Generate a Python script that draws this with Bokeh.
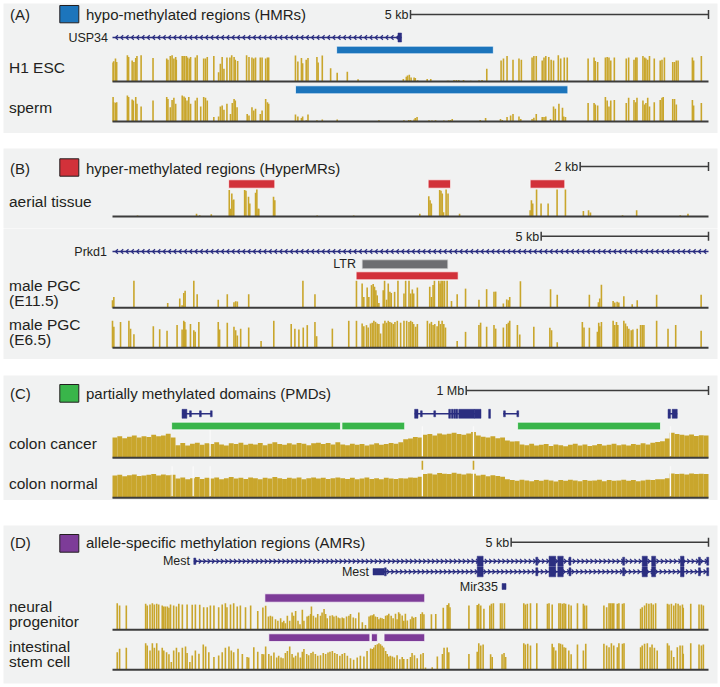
import numpy as np
from bokeh.plotting import figure
from bokeh.models import Range1d, Spacer
from bokeh.layouts import column
from bokeh.core.properties import value
from bokeh.embed import file_html
from bokeh.resources import INLINE

# ---------------------------------------------------------------- data
# Panel A  (positions in kb from window start, methylation level 0..1)
A_WINDOW_KB = 10.0
A_SCALE_KB = 5
A_USP34 = (0.0, 4.85)
A_USP34_EXONS = [(4.79, 4.85)]
A_HMR_H1 = [(3.76, 6.39)]
A_HMR_SPERM = [(3.07, 7.64)]
A_H1 = [(0.01,0.70),(0.02,0.75),(0.05,0.85),(0.07,0.72),(0.25,0.97),(0.27,0.91),(0.33,0.78),(0.36,0.72),
        (0.39,0.87),(0.41,0.94),(0.48,0.97),(0.68,0.87),(0.91,0.85),(0.93,0.81),(0.97,0.94),(1.00,0.97),
        (1.03,0.85),(1.06,0.91),(1.07,0.81),(1.17,0.94),(1.20,0.94),(1.21,0.94),(1.24,0.94),(1.26,0.89),
        (1.29,0.85),(1.31,0.91),(1.39,0.89),(1.42,0.97),(1.53,0.85),(1.56,0.85),(1.59,0.91),(1.70,0.94),
        (1.78,0.34),(1.81,0.66),(1.84,0.91),(1.87,0.47),(1.92,0.89),(1.97,0.89),(2.00,0.97),(2.04,0.91),
        (2.06,0.81),(2.10,0.76),(2.25,0.97),(2.29,0.91),(2.34,0.89),(2.37,0.85),(2.40,0.89),(2.48,0.89),
        (2.51,0.89),(2.57,0.85),(2.60,0.89),(2.62,0.89),(3.07,0.96),(3.11,0.74),(3.17,0.87),(3.19,0.68),
        (3.25,0.81),(3.28,0.87),(3.43,0.91),(3.45,0.70),(3.52,0.96),(3.66,0.49),(3.77,0.32),(3.94,0.36),
        (4.12,0.08),(4.88,0.09),(4.93,0.18),(4.95,0.22),(4.98,0.25),(5.01,0.15),(5.06,0.15),(5.08,0.13),
        (5.12,0.05),(5.28,0.09),(5.34,0.09),(5.62,0.03),(5.64,0.03),(5.73,0.06),(5.77,0.06),(5.81,0.06),
        (5.89,0.06),(6.01,0.03),(6.15,0.05),(6.20,0.06),(6.28,0.47),(6.52,0.78),(6.56,0.85),(6.62,0.94),
        (6.72,0.81),(6.82,0.85),(6.86,0.81),(7.04,0.89),(7.07,0.94),(7.11,0.94),(7.21,0.78),(7.24,0.89),
        (7.27,0.94),(7.32,0.91),(7.36,0.81),(7.40,0.78),(7.48,0.97),(7.52,0.85),(7.58,0.89),(7.63,0.89),
        (7.98,0.85),(8.08,0.89),(8.10,0.76),(8.14,0.72),(8.27,0.89),(8.30,0.91),(8.33,0.89),(8.36,0.78),
        (8.42,0.89),(8.62,0.85),(8.66,0.89),(8.75,0.81),(8.78,0.89),(8.80,0.89),(8.90,0.94),(8.93,0.89),
        (8.95,0.85),(8.98,0.81),(9.01,0.94),(9.09,0.85),(9.19,0.78),(9.22,0.81),(9.26,0.89),(9.40,0.72),
        (9.43,0.72),(9.46,0.78),(9.49,0.78),(9.73,0.89),(9.75,0.78),(9.88,0.94)]
A_SPERM = [(0.01,0.94),(0.02,0.74),(0.05,0.72),(0.07,0.74),(0.25,1.00),(0.27,0.94),(0.33,0.85),(0.35,0.81),
           (0.39,0.94),(0.41,0.68),(0.48,0.58),(0.68,0.81),(0.91,0.94),(0.93,0.87),(0.97,0.55),(1.00,0.83),
           (1.03,0.91),(1.06,0.68),(1.17,1.00),(1.20,0.96),(1.22,0.91),(1.25,0.81),(1.28,0.94),(1.31,0.68),
           (1.39,0.81),(1.42,0.91),(1.48,0.58),(1.53,0.94),(1.56,0.91),(1.59,0.81),(1.70,0.17),(1.78,0.19),
           (1.81,0.58),(1.84,0.62),(1.87,0.45),(1.92,0.68),(1.98,0.29),(2.01,0.71),(2.04,0.87),(2.06,0.81),
           (2.09,0.55),(2.26,0.29),(2.29,0.23),(2.34,0.55),(2.37,0.42),(2.40,0.49),(2.48,0.29),(2.51,0.42),
           (2.57,0.87),(2.60,0.74),(2.62,0.68),(3.07,0.27),(3.11,0.19),(3.17,0.13),(3.19,0.19),(3.25,0.05),
           (3.28,0.27),(3.43,0.05),(3.52,0.08),(3.77,0.08),(4.47,0.05),(4.89,0.05),(4.97,0.06),(5.00,0.06),
           (5.06,0.08),(5.08,0.13),(5.11,0.17),(5.31,0.05),(5.36,0.04),(5.42,0.05),(5.56,0.04),(5.64,0.05),
           (5.67,0.06),(5.70,0.10),(6.17,0.06),(6.26,0.13),(6.51,0.10),(6.54,0.06),(6.62,0.17),(6.68,0.23),
           (6.72,0.29),(6.82,0.19),(6.85,0.10),(7.04,0.10),(7.07,0.14),(7.11,0.29),(7.21,0.17),(7.24,0.17),
           (7.27,0.19),(7.35,0.10),(7.40,0.58),(7.43,0.49),(7.49,0.68),(7.55,0.53),(7.57,0.19),(7.60,0.17),
           (7.98,0.71),(8.08,0.71),(8.10,0.65),(8.14,0.62),(8.27,0.94),(8.30,0.81),(8.33,0.58),(8.36,0.81),
           (8.42,0.83),(8.62,0.71),(8.66,0.91),(8.75,0.83),(8.78,0.74),(8.80,0.91),(8.90,0.81),(8.93,0.65),
           (8.95,0.71),(8.98,0.91),(9.01,0.58),(9.09,0.74),(9.19,0.83),(9.22,0.91),(9.24,0.94),(9.40,0.87),
           (9.43,0.87),(9.46,0.65),(9.73,0.83),(9.75,0.62),(9.88,0.71)]

# Panel B (upper: aerial tissue)
B1_WINDOW_KB = 9.29
B1_SCALE_KB = 2
B1_HYPER = [(1.81, 2.53), (4.92, 5.27), (6.51, 7.05)]
B1_AERIAL = [(0.39,0.04),(1.31,0.10),(1.36,0.05),(1.54,0.08),(1.82,0.98),(1.84,0.29),(1.86,0.85),(1.88,0.60),
             (1.89,0.63),(2.06,0.98),(2.08,0.95),(2.12,0.73),(2.14,0.48),(2.23,0.88),(2.25,1.00),(2.27,0.29),
             (2.28,0.29),(2.51,0.73),(2.53,0.60),(3.19,0.04),(3.76,0.04),(4.79,0.10),(4.93,0.75),(4.95,0.60),
             (4.97,0.48),(5.10,0.98),(5.12,0.95),(5.14,0.85),(5.16,0.16),(5.20,1.00),(5.23,0.85),(5.41,0.10),
             (6.51,0.23),(6.53,0.60),(6.55,0.48),(6.61,1.00),(6.68,0.48),(6.79,0.48),(6.93,1.00),(7.06,1.00),
             (7.34,0.20),(7.42,0.23),(7.45,0.15),(7.95,0.05),(8.17,0.23),(8.85,0.05),(8.97,0.10)]

# Panel B (lower: male PGCs)
B2_WINDOW_KB = 17.81
B2_SCALE_KB = 5
B2_PRKD1 = (0.0, 17.81)
B2_LTR = [(7.46, 10.02)]
B2_HYPER = [(7.28, 10.33)]
B2_E115 = [(0.00,0.28),(0.04,0.40),(0.64,1.00),(1.65,0.18),(2.01,0.34),(2.08,0.09),(2.13,0.55),(2.17,0.63),
           (2.43,1.00),(2.53,0.50),(3.16,0.30),(3.43,0.50),(3.63,0.21),(3.68,0.24),(3.73,0.23),(4.07,0.50),
           (5.69,1.00),(6.05,0.50),(7.29,1.00),(7.46,0.90),(7.51,0.40),(7.61,0.75),(7.66,0.40),(7.74,0.84),
           (7.79,0.88),(7.83,0.78),(7.87,0.65),(7.91,0.46),(7.96,0.18),(8.09,0.65),(8.13,1.00),(8.19,0.30),
           (8.24,0.90),(8.29,0.59),(8.33,0.55),(8.43,0.59),(8.53,1.00),(8.71,0.53),(8.76,1.00),(8.86,1.00),
           (8.91,0.53),(8.96,0.68),(9.00,0.53),(9.11,0.75),(9.48,0.78),(9.53,0.40),(9.58,0.84),(9.62,1.00),
           (9.75,1.00),(9.79,0.90),(9.82,1.00),(9.87,1.00),(9.92,1.00),(10.00,1.00),(10.13,0.25),(10.30,0.50),
           (10.55,0.71),(10.95,0.30),(11.18,0.69),(11.40,0.59),(11.45,0.60),(11.68,0.16),(11.78,0.31),
           (11.83,0.28),(11.87,0.40),(12.19,0.98),(13.09,0.69),(13.29,0.48),(14.25,0.48),(14.52,0.21),
           (14.56,0.34),(14.61,0.85),(14.96,0.25),(15.01,0.20),(15.08,0.22),(15.13,0.20),(15.28,0.43),
           (15.53,0.13),(15.68,0.28),(16.26,0.48),(17.59,0.48)]
B2_E65 = [(0.00,1.00),(0.04,0.78),(0.24,0.96),(0.49,1.00),(0.54,0.71),(0.64,0.50),(1.22,0.80),(1.41,0.69),
          (1.63,0.63),(1.93,0.84),(2.08,0.68),(2.13,1.00),(2.16,0.96),(2.19,0.68),(2.33,0.88),(2.43,0.65),
          (2.47,0.59),(2.58,0.96),(3.16,0.96),(3.20,0.68),(3.43,0.93),(3.63,0.78),(3.68,0.65),(3.73,0.46),
          (3.83,0.71),(4.07,0.75),(4.44,0.25),(4.82,1.00),(5.34,0.88),(5.45,0.71),(5.57,0.68),(5.70,0.75),
          (5.82,0.84),(6.05,0.96),(6.10,0.43),(6.57,0.71),(7.06,1.00),(7.29,1.00),(7.46,0.90),(7.51,0.80),
          (7.59,0.84),(7.64,0.75),(7.71,0.90),(7.76,0.93),(7.81,1.00),(7.86,0.96),(7.91,0.90),(7.96,0.88),
          (8.01,0.53),(8.09,0.90),(8.14,1.00),(8.19,0.93),(8.24,1.00),(8.29,0.96),(8.34,0.93),(8.39,0.88),
          (8.44,0.96),(8.51,1.00),(8.61,0.93),(8.71,1.00),(8.79,1.00),(8.86,0.96),(8.91,1.00),(8.96,0.96),
          (9.00,0.88),(9.06,0.78),(9.11,0.88),(9.41,1.00),(9.48,0.90),(9.53,0.96),(9.58,0.84),(9.63,0.88),
          (9.70,0.80),(9.75,1.00),(9.80,0.88),(9.85,1.00),(9.90,0.88),(9.95,0.75),(10.30,0.25),(10.55,0.59),
          (10.95,0.84),(11.00,0.93),(11.18,0.78),(11.40,0.84),(11.45,0.71),(11.68,0.75),(11.78,0.88),
          (11.83,0.93),(11.87,1.00),(12.10,0.84),(12.17,0.49),(12.59,0.78),(13.07,0.74),(13.12,0.65),
          (13.29,0.21),(14.04,0.96),(14.09,0.75),(14.25,0.74),(14.49,0.59),(14.53,0.93),(14.56,0.80),
          (14.61,0.96),(14.96,1.00),(15.01,0.84),(15.06,0.96),(15.10,0.84),(15.28,1.00),(15.33,0.90),
          (15.38,0.80),(15.43,0.71),(15.50,0.65),(15.55,0.68),(15.68,0.71),(15.78,0.84),(15.83,0.84),
          (15.88,0.84),(16.26,1.00),(16.60,0.71),(16.83,0.84),(17.59,0.63)]

# Panel C (positions in Mb, 20 kb bins)
C_WINDOW_MB = 2.46
C_SCALE_MB = 1
C_BIN_MB = 0.02
C_PMD = [(0.244, 0.941), (0.947, 1.206), (1.672, 2.262)]
C_GENE_LINES = [(0.287, 0.410), (1.247, 1.521), (1.613, 1.676), (2.293, 2.331)]
C_GENE_BLOCKS = [(0.287, 0.307), (1.247, 1.261), (1.429, 1.494), (1.494, 1.521), (2.293, 2.303), (2.310, 2.331)]
C_GENE_TALL_TICKS = [1.391, 1.402, 1.412, 1.421, 1.556]
C_GENE_TICKS = [0.321, 0.362, 0.407, 1.274, 1.329, 1.617, 1.672]
C_CANCER = [0.55,0.58,0.53,0.57,0.60,0.55,0.58,0.56,0.62,0.58,0.60,0.65,0.55,
            0.34,0.40,0.33,0.38,0.41,0.35,0.39,0.37,0.42,0.36,0.33,0.39,0.37,0.41,0.35,0.38,0.36,
            0.40,0.34,0.38,0.42,0.37,0.35,0.39,0.36,0.40,0.38,0.34,0.39,0.41,0.37,0.40,0.36,0.42,
            0.36,0.34,0.38,0.35,0.37,0.33,0.36,0.39,0.35,0.37,0.40,0.38,0.42,
            0.50,0.52,0.56,0.55,
            0.62,0.64,0.60,0.66,0.63,0.65,0.68,0.64,0.62,0.66,0.70,
            0.60,0.57,0.55,0.58,0.53,0.55,
            0.47,0.44,0.45,
            0.36,0.34,0.38,0.33,0.35,0.37,0.32,0.36,0.34,0.31,0.35,0.38,0.33,0.36,0.32,0.34,0.37,
            0.33,0.35,0.38,0.34,0.36,0.33,0.37,0.35,0.39,0.36,0.41,0.43,
            0.45,0.52,
            0.68,0.64,0.62,0.60,0.63,0.59,0.61,0.60]
C_NORMAL = [0.60,0.62,0.58,0.61,0.63,0.59,0.60,0.62,0.64,0.60,0.63,0.61,0.62,
            0.52,0.55,0.50,0.53,0.56,0.51,0.54,0.52,0.55,0.50,0.53,0.56,0.52,0.54,0.51,0.55,0.53,
            0.50,0.54,0.52,0.56,0.53,0.51,0.54,0.52,0.55,0.50,0.53,0.55,0.52,0.54,0.51,0.53,0.55,
            0.53,0.51,0.54,0.50,0.52,0.55,0.51,0.53,0.50,0.54,0.52,0.51,0.53,
            0.52,0.55,0.54,0.57,
            0.64,0.66,0.63,0.67,0.65,0.64,0.68,0.65,0.63,0.66,0.65,
            0.60,0.62,0.58,0.61,0.59,0.57,
            0.50,0.48,0.46,0.49,0.47,0.45,0.48,0.46,0.49,0.47,0.44,0.48,0.46,0.49,0.47,0.45,
            0.48,0.46,0.47,0.49,0.45,0.48,0.46,0.47,0.49,0.46,0.48,0.45,0.47,0.49,0.48,0.50,
            0.50,0.53,
            0.66,0.64,0.65,0.63,0.66,0.64,0.65,0.64]
C_CANCER_GAPS = [0.403, 1.279, 1.490, 2.303]
C_NORMAL_GAPS = [0.246, 0.333, 0.403, 1.279, 1.490, 2.303]
C_NORMAL_SPIKES = [1.279, 1.490]

# Panel D (positions in kb)
D_WINDOW_KB = 15.10
D_SCALE_KB = 5
D_MEST1 = (2.06, 15.10)
D_MEST1_UTR = [(2.06, 2.11)]
D_MEST2 = (6.60, 15.10)
D_MEST2_UTR = [(6.60, 6.88)]
D_MEST_EXONS = [(9.24, 9.39), (11.06, 11.23), (11.28, 11.42), (13.42, 13.55), (13.66, 13.76), (14.39, 14.48)]
D_MEST_TICKS = [10.75, 11.59, 12.95, 14.87, 15.08]
D_MIR335 = [(9.87, 9.97)]
D_AMR_NEURAL = [(3.86, 7.91)]
D_AMR_INTESTINAL = [(3.96, 6.52), (6.56, 6.71), (6.88, 7.91)]
D_NEURAL = [(0.12,1.00),(0.18,0.91),(0.35,0.91),(0.84,0.98),(0.88,0.91),(0.95,0.95),(1.01,1.00),(1.06,0.95),
            (1.12,0.98),(1.17,0.95),(1.26,0.91),(1.30,0.88),(1.34,0.88),(1.39,0.88),(1.43,0.83),(1.47,0.95),
            (1.55,0.91),(1.62,0.88),(1.68,0.98),(1.77,0.95),(1.89,0.95),(2.02,0.94),(2.10,0.95),(2.21,0.94),
            (2.31,0.85),(2.40,0.85),(2.48,0.91),(2.57,0.91),(2.69,0.85),(2.78,0.95),(2.86,1.00),(2.90,0.85),
            (2.99,0.95),(3.07,1.00),(3.16,0.88),(3.24,0.91),(3.37,0.85),(3.50,0.91),(3.68,0.71),(3.81,0.84),
            (3.88,0.90),(3.95,0.50),(4.00,0.53),(4.05,0.50),(4.13,0.40),(4.19,0.34),(4.26,0.43),(4.30,0.28),
            (4.34,0.34),(4.38,0.25),(4.43,0.53),(4.49,0.34),(4.55,0.65),(4.59,0.53),(4.64,0.71),(4.70,0.34),
            (4.75,0.21),(4.81,0.75),(4.85,0.34),(4.93,0.50),(4.97,0.53),(5.02,0.59),(5.04,0.88),(5.09,0.53),
            (5.15,0.46),(5.20,0.59),(5.27,0.53),(5.31,0.65),(5.36,0.78),(5.40,0.59),(5.44,0.43),(5.51,0.53),
            (5.57,0.55),(5.61,0.50),(5.67,0.53),(5.72,0.46),(5.76,0.43),(5.82,0.46),(5.86,0.43),(5.93,0.50),
            (5.99,0.53),(6.03,0.59),(6.10,0.46),(6.16,0.43),(6.24,0.65),(6.33,0.28),(6.41,0.18),(6.50,0.50),
            (6.54,0.54),(6.58,0.55),(6.62,0.58),(6.66,0.50),(6.71,0.48),(6.75,0.40),(6.79,0.45),(6.83,0.43),
            (6.87,0.41),(6.92,0.53),(6.96,0.55),(7.00,0.60),(7.06,0.53),(7.11,0.43),(7.17,0.60),(7.21,0.40),
            (7.25,0.66),(7.28,0.60),(7.34,0.54),(7.38,0.34),(7.42,0.60),(7.47,0.35),(7.55,0.40),(7.59,0.50),
            (7.63,0.45),(7.68,0.48),(7.81,0.59),(7.85,0.66),(7.89,0.58),(8.08,0.58),(8.19,0.59),(8.38,0.83),
            (8.48,0.93),(8.52,1.00),(8.55,0.85),(9.03,0.91),(9.24,0.93),(9.28,0.98),(9.33,0.91),(9.41,0.79),
            (9.56,0.91),(9.60,0.98),(9.65,1.00),(9.83,1.00),(9.87,1.00),(9.93,1.00),(10.42,1.00),(10.46,0.95),
            (10.51,0.98),(10.59,1.00),(10.75,1.00),(11.02,0.98),(11.06,1.00),(11.14,0.95),(11.31,1.00),
            (11.35,1.00),(11.40,0.98),(11.44,1.00),(11.48,0.98),(11.56,0.95),(11.62,0.91),(11.78,1.00),
            (11.93,0.98),(11.96,0.91),(12.01,0.91),(12.45,0.91),(12.52,0.85),(12.58,1.00),(12.62,1.00),
            (12.66,1.00),(12.70,1.00),(12.79,0.98),(12.83,1.00),(12.92,0.98),(12.96,1.00),(13.38,0.79),
            (13.42,0.85),(13.48,0.91),(13.53,1.00),(13.59,0.98),(13.65,1.00),(13.70,0.95),(13.76,1.00),
            (14.06,0.98),(14.10,0.95),(14.16,0.98),(14.22,0.91),(14.27,1.00),(14.33,0.98),(14.38,0.91),
            (14.44,0.95),(14.46,0.83),(14.65,0.98),(14.86,0.95),(14.92,0.95),(14.97,0.91)]
D_INTESTINAL = [(0.12,0.66),(0.18,0.79),(0.35,0.83),(0.84,1.00),(0.88,0.91),(0.95,0.73),(1.01,1.00),(1.06,0.83),
                (1.12,1.00),(1.17,0.73),(1.26,0.83),(1.30,0.73),(1.37,0.66),(1.43,0.58),(1.49,0.29),(1.55,0.73),
                (1.62,0.83),(1.68,0.66),(1.77,0.83),(1.85,0.88),(1.89,0.63),(1.96,0.29),(2.02,0.54),(2.10,0.73),
                (2.19,0.60),(2.30,0.95),(2.36,0.88),(2.44,0.66),(2.57,0.48),(2.69,0.54),(2.78,0.66),(2.86,0.83),
                (2.95,0.88),(3.01,0.73),(3.07,0.66),(3.18,0.79),(3.29,0.59),(3.41,0.48),(3.45,0.46),(3.58,0.85),
                (3.68,0.68),(3.79,0.59),(3.83,0.58),(3.88,0.88),(3.96,0.59),(4.02,0.53),(4.09,0.65),(4.16,0.46),
                (4.21,0.53),(4.27,0.46),(4.32,0.43),(4.38,0.63),(4.43,0.71),(4.49,0.88),(4.55,0.59),(4.59,0.46),
                (4.64,0.53),(4.70,0.65),(4.76,0.46),(4.81,0.68),(4.85,0.78),(4.92,0.59),(4.97,0.55),(5.03,0.63),
                (5.08,0.68),(5.14,0.59),(5.20,0.53),(5.27,0.55),(5.34,0.63),(5.40,0.59),(5.46,0.65),(5.51,0.68),
                (5.57,0.71),(5.63,0.63),(5.69,0.59),(5.76,0.53),(5.82,0.59),(5.88,0.63),(5.95,0.53),(6.03,0.43),
                (6.11,0.38),(6.20,0.46),(6.28,0.53),(6.37,0.50),(6.45,0.71),(6.54,0.80),(6.58,0.78),(6.62,0.84),
                (6.66,0.93),(6.71,0.96),(6.75,1.00),(6.79,0.96),(6.83,0.90),(6.87,0.84),(6.92,0.71),(6.96,0.59),
                (7.00,0.50),(7.04,0.53),(7.09,0.50),(7.14,0.46),(7.21,0.55),(7.28,0.40),(7.34,0.48),(7.38,0.41),
                (7.47,0.41),(7.55,0.48),(7.59,0.63),(7.65,0.55),(7.72,0.43),(7.81,0.58),(7.87,0.63),(7.93,0.09),
                (8.10,0.10),(8.23,0.50),(8.36,0.59),(8.40,0.83),(8.48,0.84),(8.52,0.66),(9.03,0.59),(9.24,0.68),
                (9.28,1.00),(9.33,0.91),(9.39,0.95),(9.58,0.58),(9.62,0.48),(9.87,0.58),(9.92,0.63),(9.96,0.48),
                (10.42,1.00),(10.46,0.95),(10.52,0.98),(10.59,0.91),(10.75,1.00),(11.14,0.98),(11.18,0.85),
                (11.23,0.73),(11.31,1.00),(11.35,0.98),(11.40,0.95),(11.44,0.85),(11.48,0.83),(11.56,0.73),
                (11.62,0.58),(11.78,0.95),(11.93,0.73),(11.99,0.98),(12.45,0.98),(12.52,0.91),(12.58,0.85),
                (12.64,1.00),(12.70,0.91),(12.79,0.85),(12.83,1.00),(12.92,0.98),(12.96,1.00),(13.38,0.85),
                (13.42,0.91),(13.48,0.98),(13.55,1.00),(13.62,0.85),(13.67,0.95),(13.73,0.83),(13.80,0.73),
                (14.06,1.00),(14.10,0.91),(14.16,0.73),(14.22,0.48),(14.31,0.85),(14.38,0.91),(14.44,0.91),
                (14.46,0.60),(14.65,1.00),(14.86,0.95),(14.92,0.91),(14.97,0.95)]

# ---------------------------------------------------------------- style
FONT = "Liberation Sans"
BG = "#f1f2f2"
GOLD = "#c9a62c"
NAVY = "#2b2e80"
INK = "#231f20"
LINE = "#3c3c3c"
BLUE = "#1c75bc"
RED = "#d2313a"
GREEN = "#39b54a"
PURPLE = "#7d3c98"
GREY = "#6d6e71"
TITLE_PX = 15
LABEL_PX = 15.5
SMALL_PX = 12.5

FIG_W = 720
FRAME_X0, FRAME_X1 = 3, 717   # grey panel edges (page px)
TRACK_X0 = 112                # left edge of the browser tracks
TRACK_W = 596                 # width of the browser tracks


class Panel:
    """One grey panel; layout y coordinates are page pixels, x is genomic."""

    def __init__(self, top, bottom, window, pad_top=0, pad_bottom=0):
        self.top, self.bottom, self.L = top, bottom, window
        self.H = bottom - top
        self.ppu = TRACK_W / window
        self.p = figure(width=FIG_W, height=self.H + pad_top + pad_bottom,
                        x_range=Range1d((FRAME_X0 - TRACK_X0) / self.ppu,
                                        (FRAME_X1 - TRACK_X0) / self.ppu),
                        y_range=Range1d(bottom, top),
                        output_backend="svg", toolbar_location=None,
                        x_axis_type=None, y_axis_type=None,
                        min_border_left=FRAME_X0, min_border_right=FIG_W - FRAME_X1,
                        min_border_top=pad_top, min_border_bottom=pad_bottom,
                        background_fill_color=BG, border_fill_color="white",
                        outline_line_color=None)

    def X(self, px):
        return (px - TRACK_X0) / self.ppu

    def text(self, x, py, s, size, align="left", color=INK):
        self.p.text(x=[x], y=[py], text=[s], text_font=value(FONT),
                    text_font_size=value(f"{size}px"), text_align=align,
                    text_baseline="middle", text_color=color)

    def title(self, letter, py, sq_top, sq_bot, color, label):
        self.text(self.X(9.5), py, f"({letter})", TITLE_PX)
        self.p.quad(left=[self.X(59.3)], right=[self.X(78.3)], top=[sq_top],
                    bottom=[sq_bot], fill_color=color, line_color=INK, line_width=1)
        self.text(self.X(85.5), py, label, TITLE_PX)

    def scalebar(self, length, label, py):
        x0, x1 = self.L - length, self.L
        self.p.segment(x0=[x0], y0=[py], x1=[x1], y1=[py], line_color=LINE, line_width=1.5)
        self.p.segment(x0=[x0, x1], y0=[py - 4.5] * 2, x1=[x0, x1], y1=[py + 4.5] * 2,
                       line_color=LINE, line_width=1.5)
        self.text(x0 - 2 / self.ppu, py + 0.5, label, SMALL_PX, "right")

    def regions(self, spans, y0, y1, color, edge="#ffffff"):
        s, e = zip(*spans)
        self.p.quad(left=list(s), right=list(e), top=[y0] * len(s), bottom=[y1] * len(s),
                    fill_color=color, line_color=edge, line_alpha=0.7, line_width=1)

    def gene(self, span, py, strand=0, step_px=5.3):
        self.p.segment(x0=[span[0]], y0=[py], x1=[span[1]], y1=[py], line_color=NAVY, line_width=1.4)
        if strand:
            c = np.arange(span[0] + 3 / self.ppu, span[1] - 1 / self.ppu, step_px / self.ppu)
            back = c - strand * 2.4 / self.ppu
            n = len(c)
            for dy in (-2.3, 2.3):
                self.p.segment(x0=back, y0=[py + dy] * n, x1=c, y1=[py] * n,
                               line_color=NAVY, line_width=1.2)

    def blocks(self, spans, py, half_px, min_px=1.8):
        s = np.array([a for a, _ in spans], dtype=float)
        e = np.array([b for _, b in spans], dtype=float)
        e = np.maximum(e, s + min_px / self.ppu)
        self.p.quad(left=s, right=e, top=[py - half_px] * len(s), bottom=[py + half_px] * len(s),
                    fill_color=NAVY, line_color=NAVY, line_width=0.5)

    def ticks(self, xs, py, half_px, w_px=2.0):
        spans = [(x - w_px / 2 / self.ppu, x + w_px / 2 / self.ppu) for x in xs]
        self.blocks(spans, py, half_px)

    def track_range(self, name, base_py, h_px):
        # methylation 0 sits on the baseline, 1 sits h_px above it
        b = base_py - self.top
        self.p.extra_y_ranges[name] = Range1d(-(self.H - b) / h_px, b / h_px)

    def baseline(self, name):
        self.p.segment(x0=[0], y0=[0], x1=[self.L], y1=[0], y_range_name=name,
                       line_color=LINE, line_width=2)

    def track(self, name, base_py, h_px, pairs, width_px=1.6):
        self.track_range(name, base_py, h_px)
        pos, met = zip(*pairs)
        self.p.vbar(x=list(pos), top=list(met), bottom=0, width=width_px / self.ppu,
                    y_range_name=name, fill_color=GOLD, line_color=None)
        self.baseline(name)


# ---------------------------------------------------------------- panel A
A = Panel(top=3, bottom=133, window=A_WINDOW_KB, pad_top=3)
A.title("A", 14, 5, 22.3, BLUE, "hypo-methylated regions (HMRs)")
A.scalebar(A_SCALE_KB, f"{A_SCALE_KB} kb", 14)
A.gene(A_USP34, 37, strand=-1)
A.blocks(A_USP34_EXONS, 37, 4.5)
A.text(A.X(107.5), 37, "USP34", SMALL_PX, "right")
A.text(A.X(8.5), 67, "H1 ESC", LABEL_PX)
A.text(A.X(8.5), 107.3, "sperm", LABEL_PX)
A.regions(A_HMR_H1, 45.7, 53.3, BLUE)
A.track("h1", 81, 27, A_H1)
A.regions(A_HMR_SPERM, 85.3, 93.3, BLUE)
A.track("sperm", 121, 26, A_SPERM)

# ---------------------------------------------------------------- panel B (upper)
B1 = Panel(top=148, bottom=228, window=B1_WINDOW_KB)
B1.title("B", 167.7, 158.3, 175.7, RED, "hyper-methylated regions (HyperMRs)")
B1.scalebar(B1_SCALE_KB, f"{B1_SCALE_KB} kb", 166)
B1.regions(B1_HYPER, 179.3, 187.7, RED)
B1.text(B1.X(8.5), 201, "aerial tissue", LABEL_PX)
B1.track("aerial", 216, 27, B1_AERIAL)

# ---------------------------------------------------------------- panel B (lower)
B2 = Panel(top=228, bottom=359, window=B2_WINDOW_KB)
B2.scalebar(B2_SCALE_KB, f"{B2_SCALE_KB} kb", 235.7)
B2.gene(B2_PRKD1, 251, strand=-1)
B2.text(B2.X(106.5), 251, "Prkd1", SMALL_PX, "right")
B2.regions(B2_LTR, 259.3, 268.3, GREY, edge="#dddddd")
B2.text(B2.X(355.5), 263.8, "LTR", SMALL_PX, "right")
B2.regions(B2_HYPER, 271.3, 279.3, RED)
B2.text(B2.X(8.5), 285, "male PGC", LABEL_PX)
B2.text(B2.X(8.5), 299.5, "(E11.5)", LABEL_PX)
B2.track("e115", 307.3, 27, B2_E115)
B2.text(B2.X(8.5), 323.5, "male PGC", LABEL_PX)
B2.text(B2.X(8.5), 338.5, "(E6.5)", LABEL_PX)
B2.track("e65", 347.3, 27, B2_E65)

# ---------------------------------------------------------------- panel C
C = Panel(top=375, bottom=500, window=C_WINDOW_MB)
C.title("C", 393.3, 384, 401.7, GREEN, "partially methylated domains (PMDs)")
C.scalebar(C_SCALE_MB, f"{C_SCALE_MB} Mb", 390)
for g in C_GENE_LINES:
    C.gene(g, 413.3)
C.blocks(C_GENE_BLOCKS, 413.3, 4.5)
C.ticks(C_GENE_TALL_TICKS, 413.3, 4.5, 1.6)
C.ticks(C_GENE_TICKS, 413.3, 3.0, 1.4)
C.text(C.X(8.5), 443.3, "colon cancer", LABEL_PX)
C.text(C.X(8.5), 483.3, "colon normal", LABEL_PX)
centers = (np.arange(len(C_CANCER)) + 0.5) * C_BIN_MB
for name, base, vals, gaps in (("cancer", 457.3, C_CANCER, C_CANCER_GAPS),
                               ("normal", 497.3, C_NORMAL, C_NORMAL_GAPS)):
    C.track_range(name, base, 37)
    C.p.vbar(x=centers, top=vals, bottom=0, width=C_BIN_MB, y_range_name=name,
             fill_color=GOLD, line_color=None)
    C.p.vbar(x=gaps, top=0.85, bottom=0.04, width=1.3 / C.ppu, y_range_name=name,
             fill_color="#fafafa", line_color=None)
C.p.vbar(x=C_NORMAL_SPIKES, top=1.0, bottom=0.76, width=1.6 / C.ppu, y_range_name="normal",
         fill_color=GOLD, line_color=None)
C.regions(C_PMD, 421.7, 429.3, GREEN)
C.baseline("cancer")
C.baseline("normal")

# ---------------------------------------------------------------- panel D
D = Panel(top=525, bottom=683, window=D_WINDOW_KB, pad_bottom=3)
D.title("D", 542.3, 534, 551.7, PURPLE, "allele-specific methylation regions (AMRs)")
D.scalebar(D_SCALE_KB, f"{D_SCALE_KB} kb", 541.7)
for span, utr, py, lab_x in ((D_MEST1, D_MEST1_UTR, 560.7, 189.5),
                             (D_MEST2, D_MEST2_UTR, 571.3, 368.5)):
    D.gene(span, py, strand=1, step_px=4.4)
    D.blocks(utr, py, 3.2)
    D.blocks(D_MEST_EXONS, py, 5.0)
    D.ticks(D_MEST_TICKS, py, 4.0, 2.0)
    D.text(D.X(lab_x), py, "Mest", SMALL_PX, "right")
D.ticks([D_MEST2_UTR[0][1] + 0.03], 571.3, 4.0, 1.6)
D.blocks(D_MIR335, 586, 3.0)
D.text(D.X(497.5), 586, "Mir335", SMALL_PX, "right")
D.regions(D_AMR_NEURAL, 593.3, 601.7, PURPLE)
D.text(D.X(8.5), 606, "neural", LABEL_PX)
D.text(D.X(8.5), 620.7, "progenitor", LABEL_PX)
D.track("neural", 629.3, 26.6, D_NEURAL)
D.regions(D_AMR_INTESTINAL, 633.3, 641, PURPLE)
D.text(D.X(8.5), 646, "intestinal", LABEL_PX)
D.text(D.X(8.5), 660.7, "stem cell", LABEL_PX)
D.track("intestinal", 669.3, 26.6, D_INTESTINAL)

layout = column(A.p, Spacer(width=FIG_W, height=15), B1.p, B2.p,
                Spacer(width=FIG_W, height=16), C.p,
                Spacer(width=FIG_W, height=25), D.p)

open("out.html", "w").write(file_html(layout, INLINE))
